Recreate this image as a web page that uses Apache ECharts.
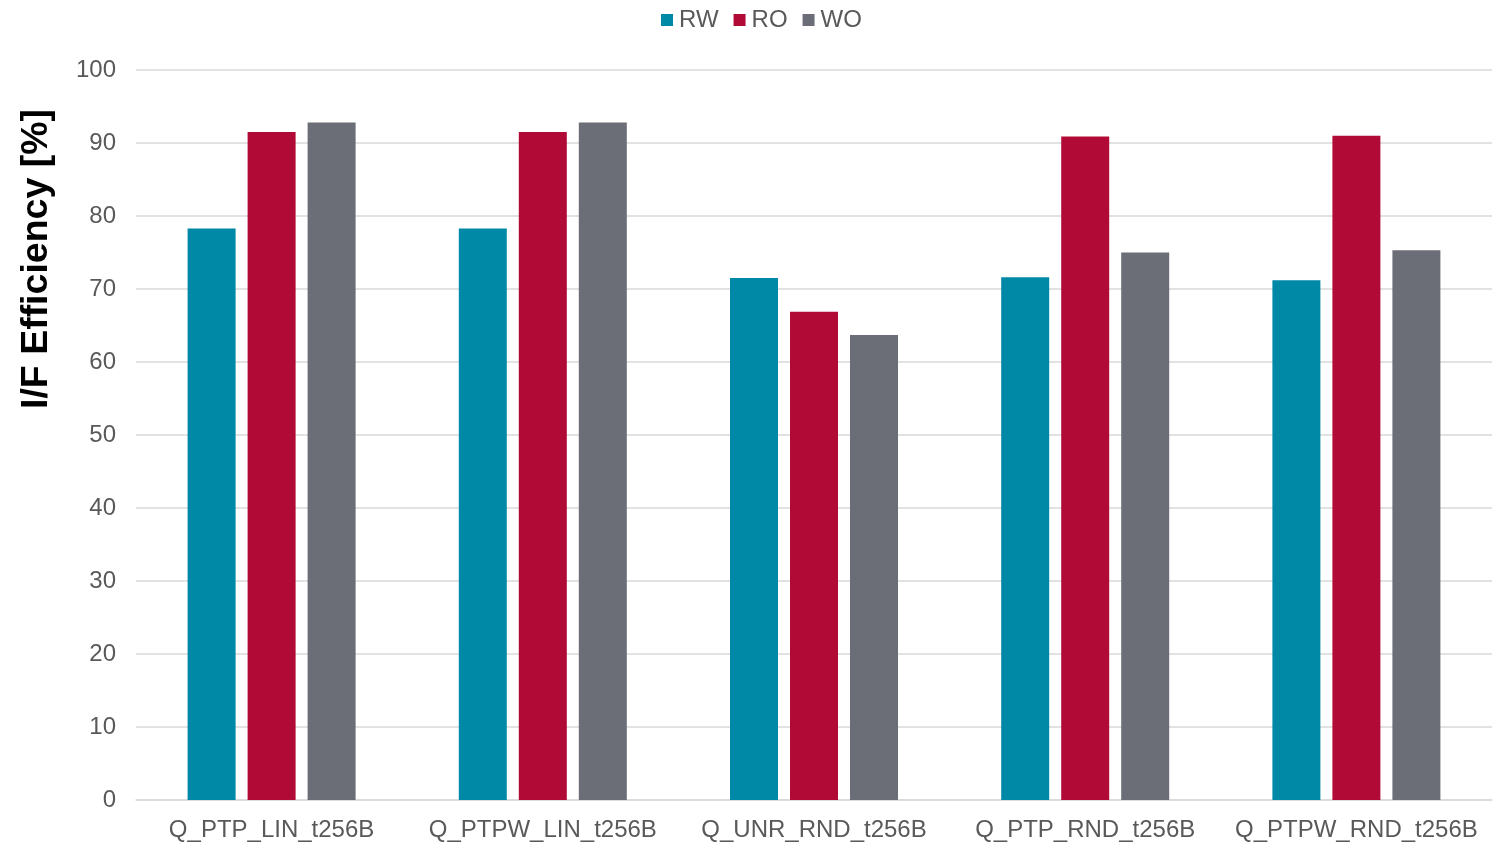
<!DOCTYPE html>
<html>
<head>
<meta charset="utf-8">
<script src="https://cdn.jsdelivr.net/npm/echarts@6/dist/echarts.min.js"></script>
<style>
  html, body { margin: 0; padding: 0; background: #fff; }
  #chart { width: 1504px; height: 842px; }
</style>
</head>
<body>
<div id="chart"></div>
<script>
// Interface efficiency per queue access pattern
const categories = ['Q_PTP_LIN_t256B', 'Q_PTPW_LIN_t256B', 'Q_UNR_RND_t256B', 'Q_PTP_RND_t256B', 'Q_PTPW_RND_t256B'];
const rwValues = [78.3, 78.3, 71.5, 71.6, 71.2];
const roValues = [91.5, 91.5, 66.9, 90.9, 91.0];
const woValues = [92.8, 92.8, 63.7, 75.0, 75.3];
const yTicks = { min: 0, max: 100, interval: 10 };

const FONT = '"Liberation Sans", Arial, sans-serif';
const LABEL = '#595959';
const GRID_LINE = '#D9D9D9';

const chart = echarts.init(document.getElementById('chart'), null, { renderer: 'canvas' });

chart.setOption({
  animation: false,
  backgroundColor: '#ffffff',
  textStyle: { fontFamily: FONT },
  legend: {
    left: 656,
    top: 3,
    itemWidth: 12,
    itemHeight: 12,
    itemGap: 15,
    icon: 'rect',
    textStyle: { fontFamily: FONT, fontSize: 24, color: LABEL, padding: [0, 0, 0, 1] },
    data: ['RW', 'RO', 'WO']
  },
  grid: { left: 136, right: 12, top: 70, bottom: 40, containLabel: false },
  xAxis: {
    type: 'category',
    data: categories,
    axisLine: { lineStyle: { color: GRID_LINE, width: 1.5 } },
    axisTick: { show: false },
    axisLabel: { interval: 0, fontFamily: FONT, fontSize: 24, color: LABEL, margin: 18 }
  },
  yAxis: {
    type: 'value',
    min: yTicks.min,
    max: yTicks.max,
    interval: yTicks.interval,
    axisLine: { show: false },
    axisTick: { show: false },
    axisLabel: { fontFamily: FONT, fontSize: 24, color: LABEL, margin: 20 },
    splitLine: { lineStyle: { color: GRID_LINE, width: 1.5 } }
  },
  graphic: [{
    type: 'text',
    x: 37,
    y: 259,
    rotation: Math.PI / 2,
    style: {
      text: 'I/F Efficiency [%]',
      font: 'bold 37.5px ' + FONT,
      fill: '#000000',
      align: 'center',
      verticalAlign: 'middle'
    }
  }],
  series: [
    { name: 'RW', type: 'bar', data: rwValues, barWidth: 48, barGap: '25%', itemStyle: { color: '#0089A7' } },
    { name: 'RO', type: 'bar', data: roValues, barWidth: 48, barGap: '25%', itemStyle: { color: '#B10A37' } },
    { name: 'WO', type: 'bar', data: woValues, barWidth: 48, barGap: '25%', itemStyle: { color: '#6C6E77' } }
  ]
});
</script>
</body>
</html>
